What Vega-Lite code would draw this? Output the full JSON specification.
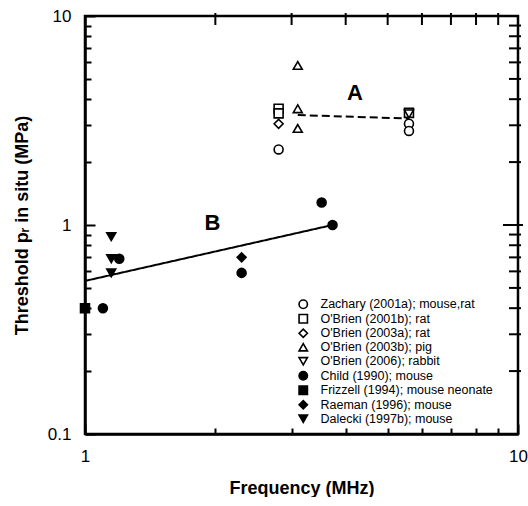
{
  "$schema": "https://vega.github.io/schema/vega-lite/v6.json",
  "width": 433,
  "height": 418,
  "padding": {"left": 13, "top": 7, "right": 0, "bottom": 0},
  "background": "white",
  "config": {
    "view": {"stroke": "black", "strokeWidth": 2.5},
    "font": "Liberation Sans",
    "axis": {
      "domainColor": "black",
      "domainWidth": 2.5,
      "tickColor": "black",
      "tickWidth": 2,
      "grid": false,
      "labelFont": "Liberation Sans",
      "labelFontSize": 17,
      "labelColor": "black",
      "labelFlush": false,
      "labelOverlap": false,
      "titleFont": "Liberation Sans",
      "titleFontSize": 18,
      "titleFontWeight": "bold",
      "titleColor": "black"
    },
    "legend": {
      "labelFont": "Liberation Sans",
      "labelFontSize": 12.5,
      "labelColor": "black",
      "labelLimit": 0,
      "symbolStrokeColor": "black"
    }
  },
  "datasets": {
    "pts": [
      {"study": "Zachary (2001a); mouse,rat", "freq": 2.8, "pr": 2.3},
      {"study": "Zachary (2001a); mouse,rat", "freq": 5.6, "pr": 3.05},
      {"study": "Zachary (2001a); mouse,rat", "freq": 5.6, "pr": 2.82},
      {"study": "O'Brien (2001b); rat", "freq": 2.8, "pr": 3.6},
      {"study": "O'Brien (2001b); rat", "freq": 2.8, "pr": 3.42},
      {"study": "O'Brien (2001b); rat", "freq": 5.6, "pr": 3.44},
      {"study": "O'Brien (2003a); rat", "freq": 2.8, "pr": 3.05},
      {"study": "O'Brien (2003b); pig", "freq": 3.1, "pr": 5.8},
      {"study": "O'Brien (2003b); pig", "freq": 3.1, "pr": 3.6},
      {"study": "O'Brien (2003b); pig", "freq": 3.1, "pr": 2.9},
      {"study": "O'Brien (2006); rabbit", "freq": 5.6, "pr": 3.4},
      {"study": "Child (1990); mouse", "freq": 1.1, "pr": 0.4},
      {"study": "Child (1990); mouse", "freq": 1.2, "pr": 0.69},
      {"study": "Child (1990); mouse", "freq": 2.3, "pr": 0.59},
      {"study": "Child (1990); mouse", "freq": 3.52, "pr": 1.28},
      {"study": "Child (1990); mouse", "freq": 3.73, "pr": 1.0},
      {"study": "Frizzell (1994); mouse neonate", "freq": 1.0, "pr": 0.4},
      {"study": "Raeman (1996); mouse", "freq": 2.3, "pr": 0.7},
      {"study": "Dalecki (1997b); mouse", "freq": 1.15, "pr": 0.88},
      {"study": "Dalecki (1997b); mouse", "freq": 1.15, "pr": 0.69},
      {"study": "Dalecki (1997b); mouse", "freq": 1.15, "pr": 0.59}
    ],
    "fits": [
      {"group": "A", "freq": 3.1, "pr": 3.36},
      {"group": "A", "freq": 5.6, "pr": 3.23},
      {"group": "B", "freq": 1.0, "pr": 0.54},
      {"group": "B", "freq": 3.73, "pr": 1.0}
    ],
    "annot": [
      {"label": "A", "freq": 4.2, "pr": 4.28},
      {"label": "B", "freq": 1.97, "pr": 1.02}
    ],
    "topticks": [
      {"freq": 2, "pr": 10}, {"freq": 3, "pr": 10}, {"freq": 4, "pr": 10}, {"freq": 5, "pr": 10},
      {"freq": 6, "pr": 10}, {"freq": 7, "pr": 10}, {"freq": 8, "pr": 10}, {"freq": 9, "pr": 10}
    ],
    "rightticks": [
      {"freq": 10, "pr": 0.2}, {"freq": 10, "pr": 0.3}, {"freq": 10, "pr": 0.4}, {"freq": 10, "pr": 0.5},
      {"freq": 10, "pr": 0.6}, {"freq": 10, "pr": 0.7}, {"freq": 10, "pr": 0.8}, {"freq": 10, "pr": 0.9},
      {"freq": 10, "pr": 2}, {"freq": 10, "pr": 3}, {"freq": 10, "pr": 4}, {"freq": 10, "pr": 5},
      {"freq": 10, "pr": 6}, {"freq": 10, "pr": 7}, {"freq": 10, "pr": 8}, {"freq": 10, "pr": 9}
    ],
    "rightmajor": [
      {"freq": 10, "pr": 1}
    ]
  },
  "encoding": {
    "x": {"field": "freq", "type": "quantitative", "scale": {"type": "log", "domain": [1, 10], "nice": false},
      "axis": {"orient": "bottom", "title": "Frequency (MHz)", "values": [1,2,3,4,5,6,7,8,9,10],
        "labelExpr": "datum.value == 1 ? '1' : datum.value == 10 ? '10' : ''",
        "tickSize": {"condition": {"test": "datum.value == 1 || datum.value == 10", "value": -10}, "value": -6},
        "labelPadding": 24, "titlePadding": 11}},
    "y": {"field": "pr", "type": "quantitative", "scale": {"type": "log", "domain": [0.1, 10], "nice": false},
      "axis": {"orient": "left", "title": "Threshold pᵣ in situ (MPa)", "values": [0.1,0.2,0.3,0.4,0.5,0.6,0.7,0.8,0.9,1,2,3,4,5,6,7,8,9,10],
        "labelExpr": "datum.value == 0.1 ? '0.1' : datum.value == 1 ? '1' : datum.value == 10 ? '10' : ''",
        "tickSize": {"condition": {"test": "datum.value == 0.1 || datum.value == 1 || datum.value == 10", "value": -10}, "value": -6},
        "labelPadding": 24, "titlePadding": 16}}
  },
  "layer": [
    {
      "data": {"name": "fits"},
      "mark": {"type": "line", "color": "black", "strokeWidth": 2},
      "encoding": {
        "detail": {"field": "group"},
        "strokeDash": {"field": "group", "type": "nominal", "scale": {"domain": ["A", "B"], "range": [[8, 4], [1, 0]]}, "legend": null}
      }
    },
    {
      "data": {"name": "topticks"},
      "mark": {"type": "tick", "orient": "vertical", "color": "black", "size": 12, "thickness": 2, "yOffset": 3, "opacity": 1}
    },
    {
      "data": {"name": "rightticks"},
      "mark": {"type": "tick", "orient": "horizontal", "color": "black", "size": 12, "thickness": 2, "xOffset": -3, "opacity": 1}
    },
    {
      "data": {"name": "rightmajor"},
      "mark": {"type": "tick", "orient": "horizontal", "color": "black", "size": 20, "thickness": 2, "xOffset": -5, "opacity": 1}
    },
    {
      "data": {"name": "pts"},
      "mark": {"type": "point", "strokeWidth": 1.6, "opacity": 1, "size": 80},
      "encoding": {
        "shape": {"field": "study", "type": "nominal",
          "scale": {"domain": ["Zachary (2001a); mouse,rat", "O'Brien (2001b); rat", "O'Brien (2003a); rat", "O'Brien (2003b); pig", "O'Brien (2006); rabbit", "Child (1990); mouse", "Frizzell (1994); mouse neonate", "Raeman (1996); mouse", "Dalecki (1997b); mouse"],
            "range": ["circle", "square", "diamond", "triangle-up", "triangle-down", "circle", "square", "diamond", "triangle-down"]},
          "legend": {"title": null, "orient": "none", "legendX": 212, "legendY": 282, "padding": 0, "symbolSize": 70, "symbolStrokeWidth": 1.6, "labelOffset": 11, "rowPadding": -1.5}},
        "fill": {"field": "study", "type": "nominal",
          "scale": {"domain": ["Zachary (2001a); mouse,rat", "O'Brien (2001b); rat", "O'Brien (2003a); rat", "O'Brien (2003b); pig", "O'Brien (2006); rabbit", "Child (1990); mouse", "Frizzell (1994); mouse neonate", "Raeman (1996); mouse", "Dalecki (1997b); mouse"],
            "range": ["white", "white", "white", "white", "white", "black", "black", "black", "black"]},
          "legend": {"title": null, "orient": "none", "legendX": 212, "legendY": 282, "padding": 0, "symbolSize": 70, "symbolStrokeWidth": 1.6, "labelOffset": 11, "rowPadding": -1.5}},
        "stroke": {"field": "study", "type": "nominal",
          "scale": {"domain": ["Zachary (2001a); mouse,rat", "O'Brien (2001b); rat", "O'Brien (2003a); rat", "O'Brien (2003b); pig", "O'Brien (2006); rabbit", "Child (1990); mouse", "Frizzell (1994); mouse neonate", "Raeman (1996); mouse", "Dalecki (1997b); mouse"],
            "range": ["black", "black", "black", "black", "black", "black", "black", "black", "black"]},
          "legend": {"title": null, "orient": "none", "legendX": 212, "legendY": 282, "padding": 0, "symbolSize": 70, "symbolStrokeWidth": 1.6, "labelOffset": 11, "rowPadding": -1.5}}
      }
    },
    {
      "data": {"name": "annot"},
      "mark": {"type": "text", "fontSize": 22, "fontWeight": "bold", "color": "black", "font": "Liberation Sans"},
      "encoding": {
        "text": {"field": "label"}
      }
    }
  ]
}
